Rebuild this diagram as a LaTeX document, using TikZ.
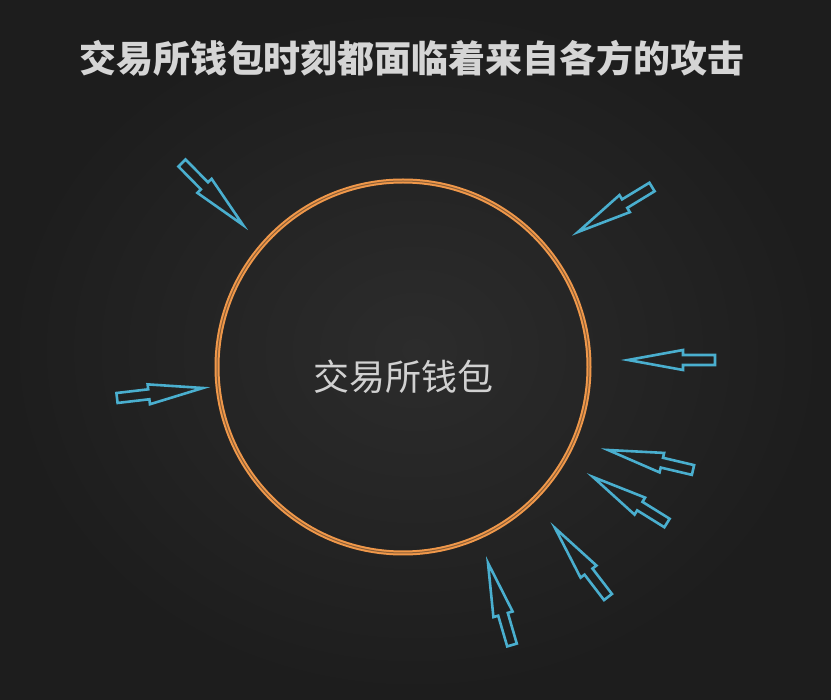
\documentclass[tikz,border=0pt]{standalone}
\usepackage{fontspec}
\newfontfamily\cjk{Noto Sans CJK SC}
\usetikzlibrary{calc,positioning}
\definecolor{bgdark}{HTML}{242424}
\definecolor{bgmid}{HTML}{2C2C2C}
\definecolor{ringorange}{HTML}{F0984A}
\definecolor{attackblue}{HTML}{4AAFCF}
\definecolor{textgray}{HTML}{DADADA}
\tikzset{
	attack/.style={draw=attackblue,line width=2.6pt,line join=miter},
	ring/.style={circle,draw=ringorange,line width=2pt,double=bgdark!50!ringorange,double distance=1pt,minimum size=372pt,inner sep=0pt}
}
\begin{document}
\begin{tikzpicture}[x=1pt,y=-1pt]
	\shade[inner color=bgmid,outer color=bgdark!80!black] (0,0) rectangle (831,700);
	\useasboundingbox (0,0) rectangle (831,700);
	\node[font=\cjk\bfseries\fontsize{37}{37}\selectfont,text=textgray!95!gray] (title) at (412,58) {交易所钱包时刻都面临着来自各方的攻击};
	\node[ring] (wallet) at (403,367) {};
	\node[font=\cjk\fontsize{36}{36}\selectfont,text=textgray!90!gray] (walletlabel) at (403,377) {交易所钱包};
	\foreach \xa/\ya/\xb/\yb [count=\n] in {182/163/243/225,652/187/578/232,715/360/628/360,117/398/203/388,693/470/608/450,667/523/593/477,608/597/555/528,512/645/488/563}{
		\coordinate (t\n) at (\xa,\ya);
		\coordinate (h\n) at (\xb,\yb);
		\coordinate (b\n) at ($(t\n)!32pt!(h\n)$);
		\draw[attack] ($(t\n)!5pt!90:(h\n)$) -- ($(b\n)!5pt!90:(h\n)$) -- ($(b\n)!10pt!90:(h\n)$) -- (h\n) -- ($(b\n)!10pt!-90:(h\n)$) -- ($(b\n)!5pt!-90:(h\n)$) -- ($(t\n)!5pt!-90:(h\n)$) -- cycle;
	}
\end{tikzpicture}
\end{document}
